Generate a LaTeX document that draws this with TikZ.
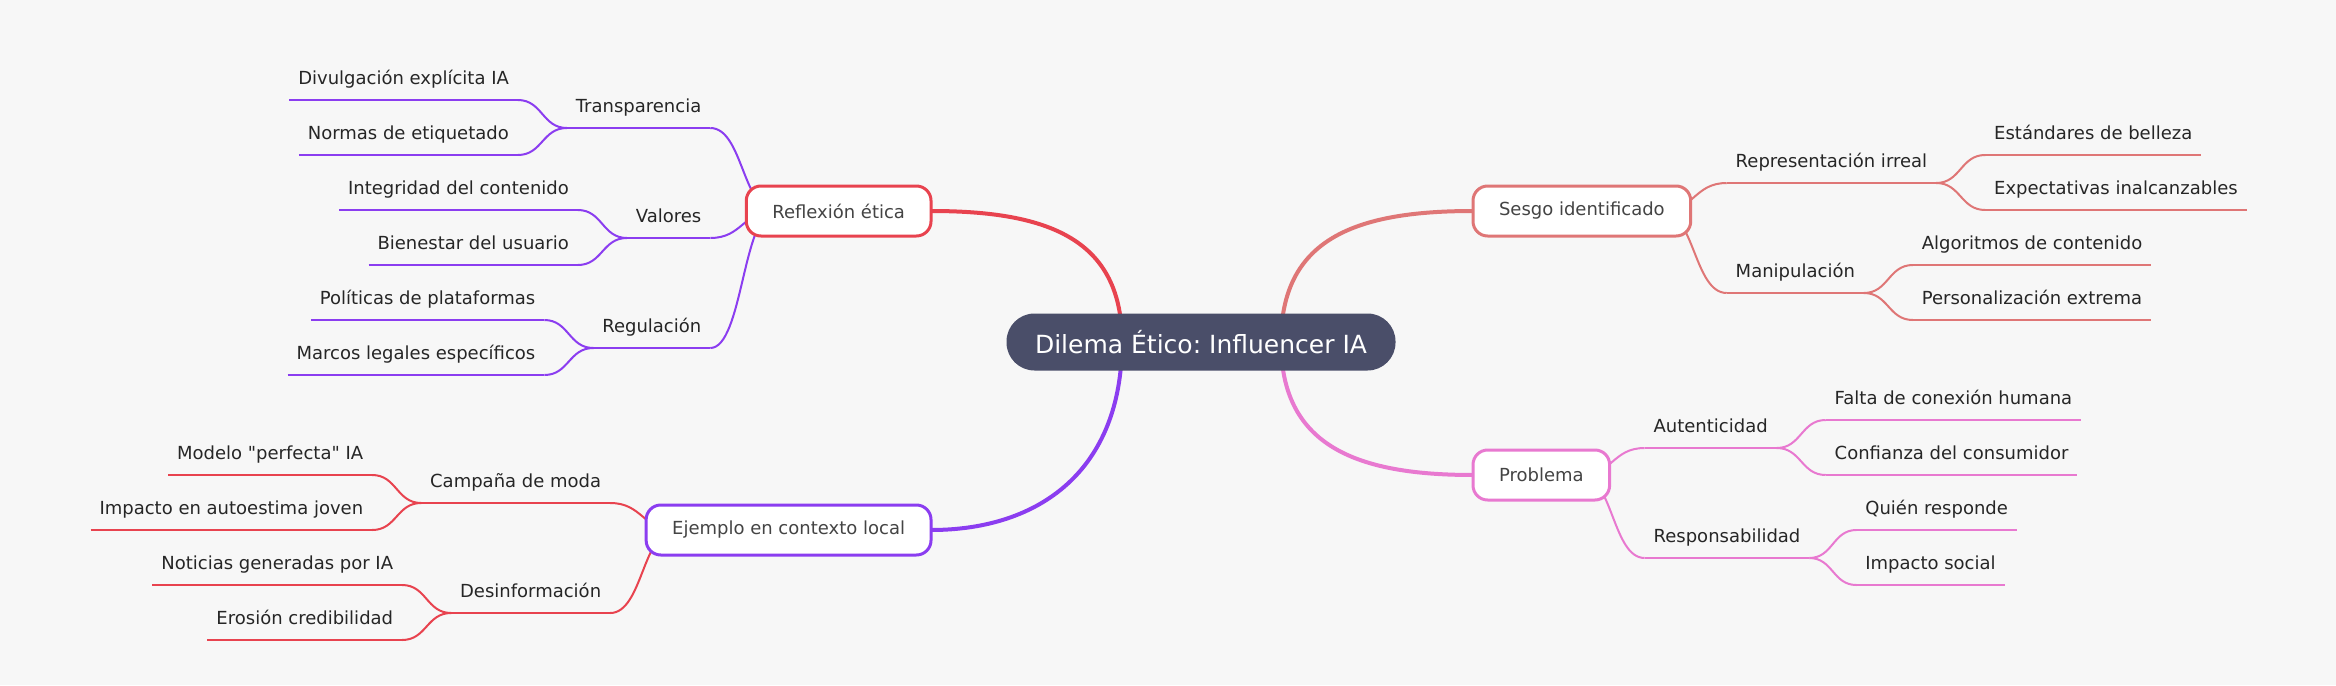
\documentclass[tikz,border=0pt]{standalone}
\usepackage{fontspec}
\setmainfont{DejaVu Sans}
\usetikzlibrary{calc}
\pgfdeclarelayer{bg}
\pgfsetlayers{bg,main}
\frenchspacing
\newcommand{\straightqq}{\XeTeXglyph\XeTeXglyphindex "quotedbl" \relax}
\definecolor{bgc}{HTML}{F7F7F7}
\definecolor{rootc}{HTML}{4A4E69}
\definecolor{redc}{HTML}{E8434F}
\definecolor{salm}{HTML}{DF7676}
\definecolor{pinkc}{HTML}{E879D0}
\definecolor{purp}{HTML}{8B3DF0}
\definecolor{nodetext}{HTML}{444444}
\definecolor{leaftext}{HTML}{262626}
\tikzset{
  rootnode/.style={fill=rootc, text=white, rounded corners=21pt, minimum height=42.75pt,
    inner xsep=21.4pt, inner ysep=0pt, outer sep=0pt, font=\fontsize{18.75pt}{22pt}\selectfont},
  lvlzero/.style={draw=#1, fill=white, line width=2.25pt, rounded corners=11pt,
    minimum height=37.5pt, inner xsep=19.5pt, inner ysep=0pt, outer sep=0pt,
    text=nodetext, font=\fontsize{13.5pt}{16pt}\selectfont},
  lbl/.style={inner xsep=6.75pt, inner ysep=11.8pt, text depth=0pt, outer sep=0pt,
    text=leaftext, font=\fontsize{13.5pt}{16pt}\selectfont},
  uline/.style={draw=#1, line width=1.5pt},
  link/.style={draw=#1, line width=1.5pt},
  mainedge/.style={draw=#1, line width=3pt},
}
\newcommand{\mmlink}[3]{\draw[link=#1] let \p1=#2, \p2=#3 in (\p1) .. controls ({0.5*\x1+0.5*\x2},\y1) and ({0.5*\x1+0.5*\x2},\y2) .. (\p2);}
\newcommand{\mmuline}[2]{\draw[uline=#1] (#2.south west) -- (#2.south east);}
\begin{document}
\begin{tikzpicture}[x=0.75pt,y=-0.75pt]
\begin{pgfonlayer}{bg}
\fill[bgc] (0,0) rectangle (2336,685);
\end{pgfonlayer}
\useasboundingbox (0,0) rectangle (2336,685);

% root and main branches
\node[rootnode] (root) at (1201,342) {Dilema Ético: Influencer IA};
\node[lvlzero=redc, anchor=east] (refl) at (931,211) {Reflexión ética};
\node[lvlzero=salm, anchor=west] (sesgo) at (1473,211) {Sesgo identificado};
\node[lvlzero=pinkc, anchor=west] (prob) at (1473,475) {Problema};
\node[lvlzero=purp, anchor=east] (ejem) at (931,530) {Ejemplo en contexto local};

% right side level 1
\node[lbl, anchor=south west] (rep) at ($(sesgo.east)+(36,-28)$) {Representación irreal};
\node[lbl, anchor=south west] (man) at ($(sesgo.east)+(36,82)$) {Manipulación};
\node[lbl, anchor=south west] (aut) at ($(prob.east)+(35,-27)$) {Autenticidad};
\node[lbl, anchor=south west] (resp) at ($(prob.east)+(35,83)$) {Responsabilidad};
% right side level 2
\node[lbl, anchor=south west] (est) at ($(rep.south east)+(49,-28)$) {Estándares de belleza};
\node[lbl, anchor=south west] (exp) at ($(rep.south east)+(49,27)$) {Expectativas inalcanzables};
\node[lbl, anchor=south west] (alg) at ($(man.south east)+(49,-28)$) {Algoritmos de contenido};
\node[lbl, anchor=south west] (per) at ($(man.south east)+(49,27)$) {Personalización extrema};
\node[lbl, anchor=south west] (fal) at ($(aut.south east)+(49,-28)$) {Falta de conexión humana};
\node[lbl, anchor=south west] (con) at ($(aut.south east)+(49,27)$) {Confianza del consumidor};
\node[lbl, anchor=south west] (qui) at ($(resp.south east)+(47,-28)$) {Quién responde};
\node[lbl, anchor=south west] (imps) at ($(resp.south east)+(47,27)$) {Impacto social};

% left side level 1
\node[lbl, anchor=south east] (tra) at ($(refl.west)+(-36,-83)$) {Transparencia};
\node[lbl, anchor=south east] (val) at ($(refl.west)+(-36,27)$) {Valores};
\node[lbl, anchor=south east] (reg) at ($(refl.west)+(-36,137)$) {Regulación};
\node[lbl, anchor=south east] (cam) at ($(ejem.west)+(-36,-27)$) {Campaña de moda};
\node[lbl, anchor=south east] (des) at ($(ejem.west)+(-36,83)$) {Desinformación};
% left side level 2
\node[lbl, anchor=south east] (div) at ($(tra.south west)+(-49,-28)$) {Divulgación explícita IA};
\node[lbl, anchor=south east] (nor) at ($(tra.south west)+(-49,27)$) {Normas de etiquetado};
\node[lbl, anchor=south east] (int) at ($(val.south west)+(-49,-28)$) {Integridad del contenido};
\node[lbl, anchor=south east] (bie) at ($(val.south west)+(-49,27)$) {Bienestar del usuario};
\node[lbl, anchor=south east] (pol) at ($(reg.south west)+(-49,-28)$) {Políticas de plataformas};
\node[lbl, anchor=south east] (mar) at ($(reg.south west)+(-49,27)$) {Marcos legales específicos};
\node[lbl, anchor=south east] (mod) at ($(cam.south west)+(-49,-28)$) {Modelo \straightqq perfecta\straightqq{} IA};
\node[lbl, anchor=south east] (impa) at ($(cam.south west)+(-49,27)$) {Impacto en autoestima joven};
\node[lbl, anchor=south east] (not) at ($(des.south west)+(-49,-28)$) {Noticias generadas por IA};
\node[lbl, anchor=south east] (ero) at ($(des.south west)+(-49,27)$) {Erosión credibilidad};

\begin{pgfonlayer}{bg}
% main edges
\draw[mainedge=redc] ($(root)+(-79,0)$) .. controls ($(root)+(-79,-102)$) and ($(refl.east)+(119,0)$) .. (refl.east);
\draw[mainedge=salm] ($(root)+(80,0)$) .. controls ($(root)+(80,-102)$) and ($(sesgo.west)+(-120,0)$) .. (sesgo.west);
\draw[mainedge=pinkc] ($(root)+(80,0)$) .. controls ($(root)+(80,102)$) and ($(prob.west)+(-120,0)$) .. (prob.west);
\draw[mainedge=purp] ($(root)+(-79,0)$) .. controls ($(root)+(-79,128)$) and ($(ejem.east)+(109,0)$) .. (ejem.east);

% level 0 -> level 1
\mmlink{salm}{($(sesgo.east)+(-29,0)$)}{(rep.south west)}
\mmlink{salm}{($(sesgo.east)+(-29,0)$)}{(man.south west)}
\mmlink{pinkc}{($(prob.east)+(-29,0)$)}{(aut.south west)}
\mmlink{pinkc}{($(prob.east)+(-29,0)$)}{(resp.south west)}
\mmlink{purp}{($(refl.west)+(29,0)$)}{(tra.south east)}
\mmlink{purp}{($(refl.west)+(29,0)$)}{(val.south east)}
\mmlink{purp}{($(refl.west)+(29,0)$)}{(reg.south east)}
\mmlink{redc}{($(ejem.west)+(29,0)$)}{(cam.south east)}
\mmlink{redc}{($(ejem.west)+(29,0)$)}{(des.south east)}

% level 1 -> level 2
\mmlink{salm}{(rep.south east)}{(est.south west)}
\mmlink{salm}{(rep.south east)}{(exp.south west)}
\mmlink{salm}{(man.south east)}{(alg.south west)}
\mmlink{salm}{(man.south east)}{(per.south west)}
\mmlink{pinkc}{(aut.south east)}{(fal.south west)}
\mmlink{pinkc}{(aut.south east)}{(con.south west)}
\mmlink{pinkc}{(resp.south east)}{(qui.south west)}
\mmlink{pinkc}{(resp.south east)}{(imps.south west)}
\mmlink{purp}{(tra.south west)}{(div.south east)}
\mmlink{purp}{(tra.south west)}{(nor.south east)}
\mmlink{purp}{(val.south west)}{(int.south east)}
\mmlink{purp}{(val.south west)}{(bie.south east)}
\mmlink{purp}{(reg.south west)}{(pol.south east)}
\mmlink{purp}{(reg.south west)}{(mar.south east)}
\mmlink{redc}{(cam.south west)}{(mod.south east)}
\mmlink{redc}{(cam.south west)}{(impa.south east)}
\mmlink{redc}{(des.south west)}{(not.south east)}
\mmlink{redc}{(des.south west)}{(ero.south east)}

% underlines
\mmuline{salm}{rep} \mmuline{salm}{man}
\mmuline{salm}{est} \mmuline{salm}{exp} \mmuline{salm}{alg} \mmuline{salm}{per}
\mmuline{pinkc}{aut} \mmuline{pinkc}{resp}
\mmuline{pinkc}{fal} \mmuline{pinkc}{con} \mmuline{pinkc}{qui} \mmuline{pinkc}{imps}
\mmuline{purp}{tra} \mmuline{purp}{val} \mmuline{purp}{reg}
\mmuline{purp}{div} \mmuline{purp}{nor} \mmuline{purp}{int} \mmuline{purp}{bie} \mmuline{purp}{pol} \mmuline{purp}{mar}
\mmuline{redc}{cam} \mmuline{redc}{des}
\mmuline{redc}{mod} \mmuline{redc}{impa} \mmuline{redc}{not} \mmuline{redc}{ero}
\end{pgfonlayer}
\end{tikzpicture}
\end{document}
